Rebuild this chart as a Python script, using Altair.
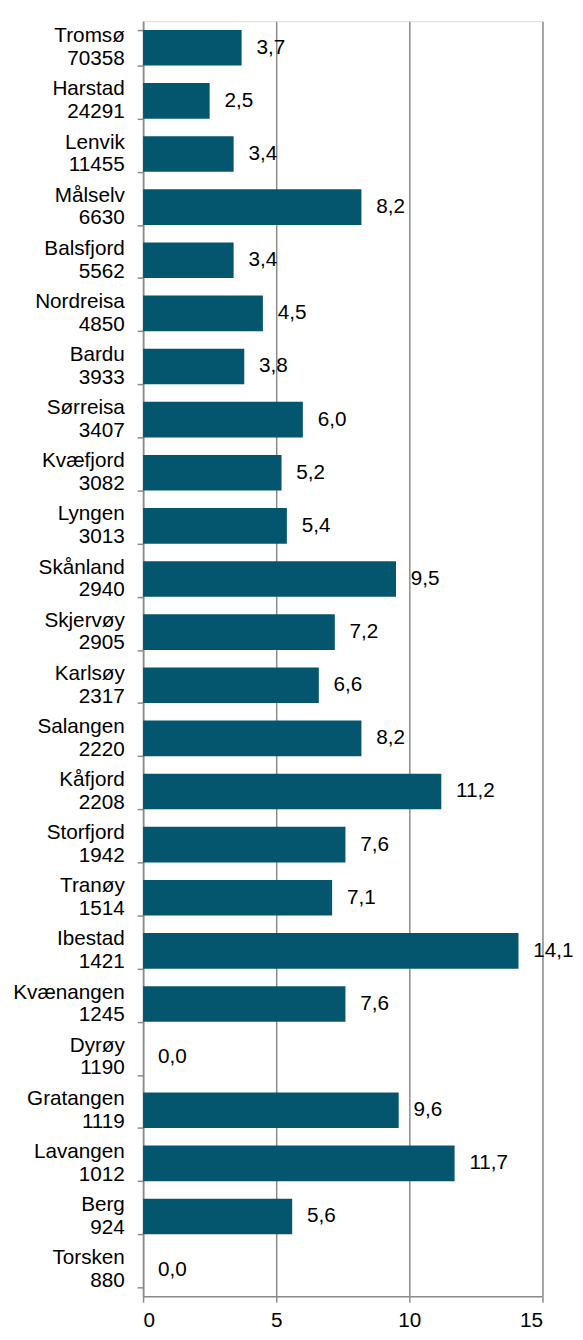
import altair as alt
import pandas as pd

names = ["Tromsø", "Harstad", "Lenvik", "Målselv", "Balsfjord", "Nordreisa", "Bardu",
         "Sørreisa", "Kvæfjord", "Lyngen", "Skånland", "Skjervøy", "Karlsøy", "Salangen",
         "Kåfjord", "Storfjord", "Tranøy", "Ibestad", "Kvænangen", "Dyrøy", "Gratangen",
         "Lavangen", "Berg", "Torsken"]
population = [70358, 24291, 11455, 6630, 5562, 4850, 3933, 3407, 3082, 3013, 2940, 2905,
              2317, 2220, 2208, 1942, 1514, 1421, 1245, 1190, 1119, 1012, 924, 880]
values = [3.7, 2.5, 3.4, 8.2, 3.4, 4.5, 3.8, 6.0, 5.2, 5.4, 9.5, 7.2, 6.6, 8.2, 11.2,
          7.6, 7.1, 14.1, 7.6, 0.0, 9.6, 11.7, 5.6, 0.0]
x_ticks = [0, 5, 10, 15]

df = pd.DataFrame({
    "cat": [f"{n}\n{p}" for n, p in zip(names, population)],
    "value": values,
    "label": [f"{v:.1f}".replace(".", ",") for v in values],
})
order = list(df["cat"])

FONT = "Liberation Sans"
GREY = "#8a8a8a"
FS = 21

y_enc = alt.Y("cat:N", sort=order, title=None,
              scale=alt.Scale(paddingInner=0.33, paddingOuter=0.165),
              axis=alt.Axis(labelExpr="split(datum.label, '\\n')", labelAlign="right",
                            labelBaseline="middle", labelFontSize=FS, labelLineHeight=23,
                            labelOffset=-12,
                            labelFont=FONT, labelColor="black", labelPadding=13,
                            tickBand="extent", tickSize=6, tickColor=GREY, tickWidth=1.5,
                            domainColor=GREY, domainWidth=1.5, grid=False, labelLimit=300))
x_enc = alt.X("value:Q", title=None,
              scale=alt.Scale(domain=[0, 15], nice=False),
              axis=alt.Axis(values=x_ticks, grid=True, gridColor=GREY, gridWidth=1.5,
                            domainColor=GREY, domainWidth=1.5, tickColor=GREY, tickWidth=1.5,
                            tickSize=6, labelFontSize=FS, labelFont=FONT, labelColor="black",
                            labelPadding=8, format="d"))

bars = alt.Chart(df).mark_bar(color="#03566E").encode(x=x_enc, y=y_enc)
text = alt.Chart(df).mark_text(align="left", baseline="middle", dx=15, fontSize=FS,
                               font=FONT, color="black").encode(
    x="value:Q", y=alt.Y("cat:N", sort=order), text="label:N")

chart = (bars + text).properties(
    width=405, height=1293,
    autosize=alt.AutoSizeParams(type="none"),
    padding={"left": 137, "top": 4, "right": 33, "bottom": 36},
).configure_view(stroke=None).configure(background="white")

chart.save("out.html", embed_options={"renderer": "svg", "actions": False})
